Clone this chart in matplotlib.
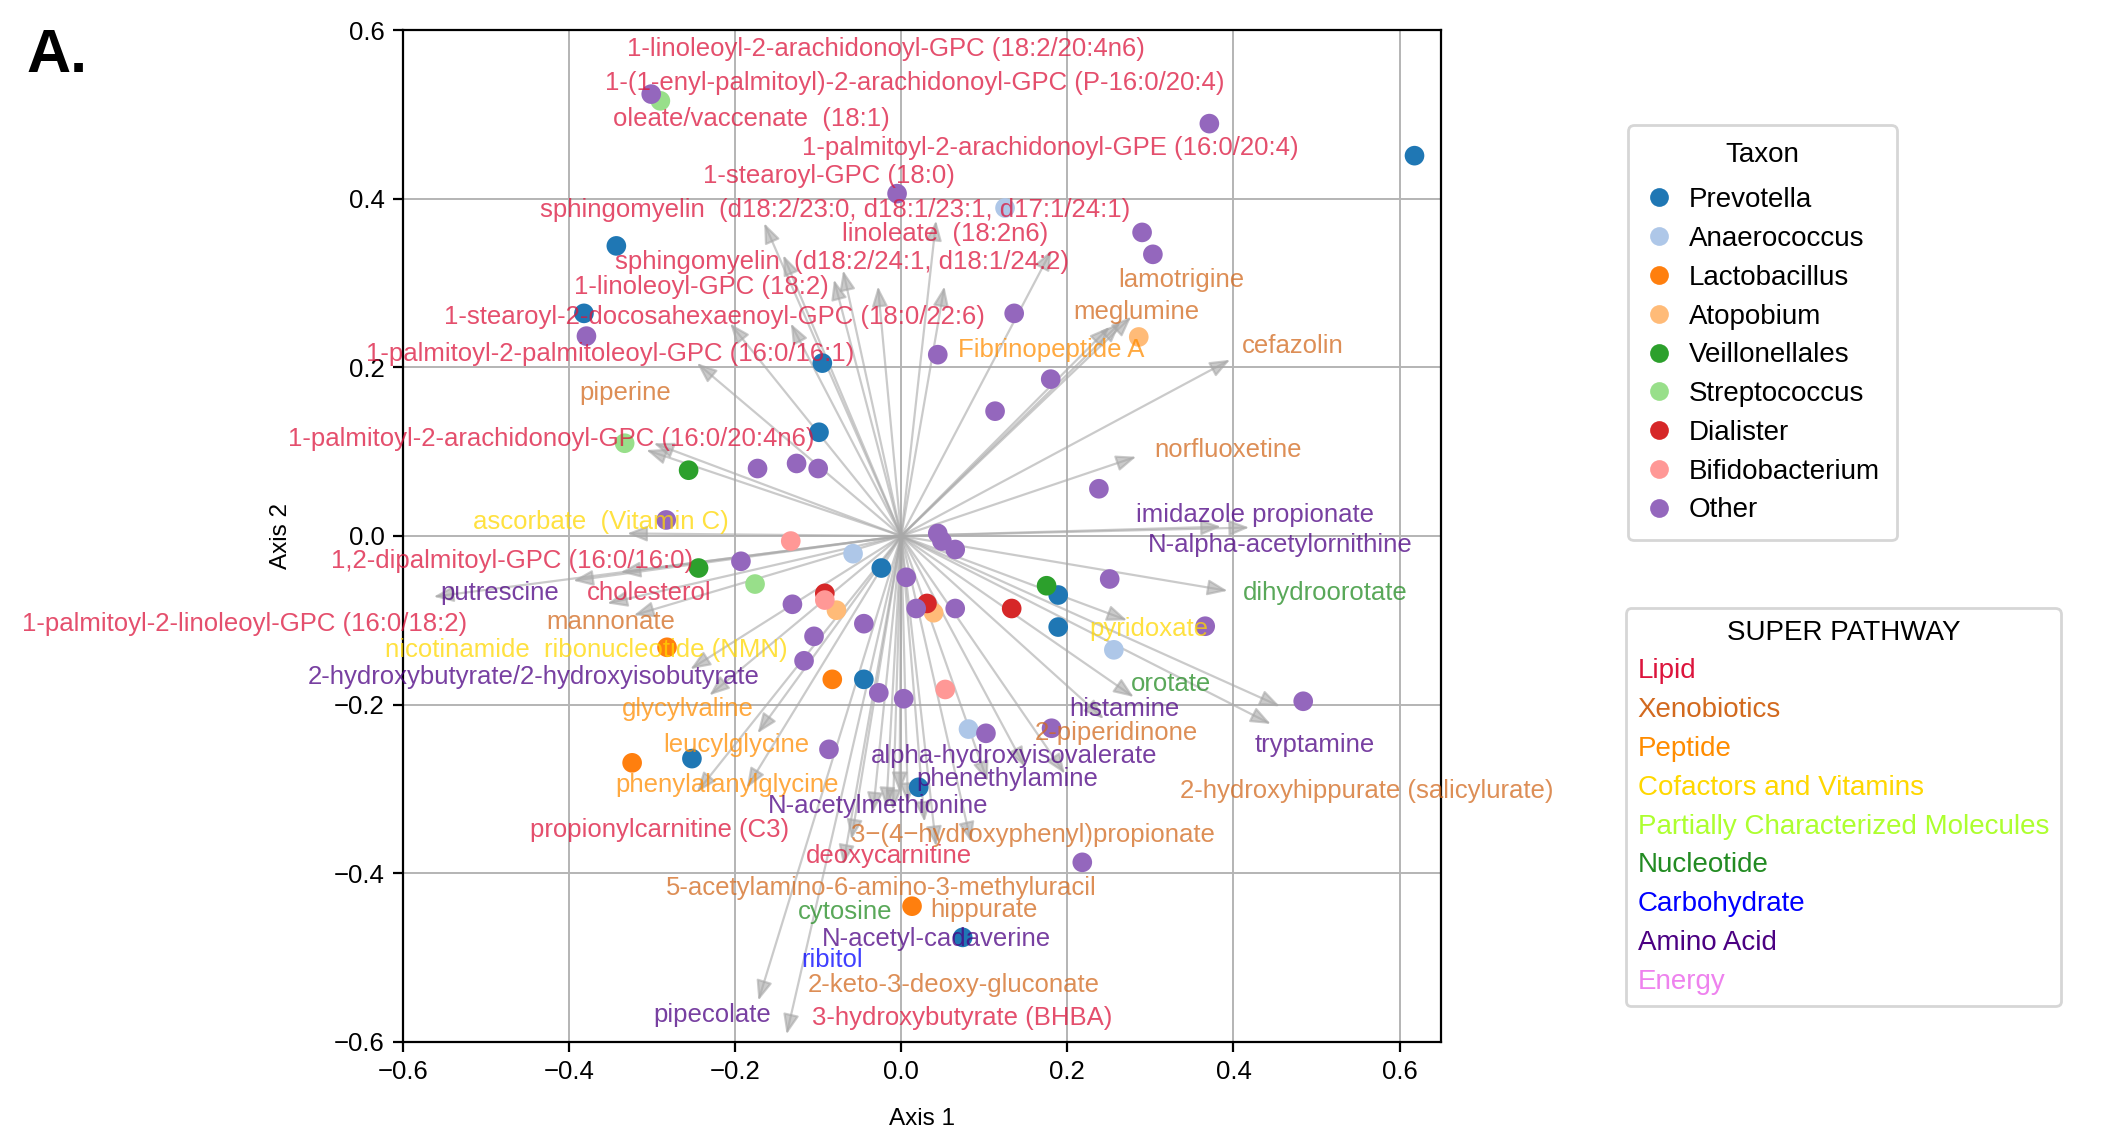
import matplotlib
matplotlib.use('Agg')
import matplotlib.pyplot as plt
from matplotlib.lines import Line2D

plt.rcParams['font.family'] = ['Liberation Sans', 'DejaVu Sans']

# ---------------- data ----------------
taxa = ['Prevotella', 'Anaerococcus', 'Lactobacillus', 'Atopobium', 'Veillonellales',
        'Streptococcus', 'Dialister', 'Bifidobacterium', 'Other']
taxon_colors = ['#1f77b4', '#aec7e8', '#ff7f0e', '#ffbb78', '#2ca02c',
                '#98df8a', '#d62728', '#ff9896', '#9467bd']

prevotella_x = [0.618, -0.343, -0.382, -0.095, -0.099, -0.024, 0.189, 0.189, -0.045, -0.252, 0.021, 0.074]
prevotella_y = [0.451, 0.344, 0.264, 0.205, 0.123, -0.038, -0.070, -0.108, -0.170, -0.264, -0.298, -0.476]
anaerococcus_x = [0.125, -0.058, 0.256, 0.081]
anaerococcus_y = [0.389, -0.021, -0.135, -0.229]
lactobacillus_x = [-0.282, -0.083, -0.324, 0.013]
lactobacillus_y = [-0.132, -0.170, -0.269, -0.439]
atopobium_x = [0.286, -0.078, 0.039]
atopobium_y = [0.236, -0.088, -0.091]
veillonellales_x = [-0.256, -0.244, 0.175]
veillonellales_y = [0.078, -0.038, -0.059]
streptococcus_x = [-0.290, -0.333, -0.176]
streptococcus_y = [0.516, 0.110, -0.057]
dialister_x = [-0.092, 0.031, 0.133]
dialister_y = [-0.068, -0.080, -0.086]
bifidobacterium_x = [-0.133, -0.092, 0.053]
bifidobacterium_y = [-0.006, -0.076, -0.182]
other_x = [-0.301, 0.371, -0.005, 0.290, 0.303, 0.136, -0.379, 0.044, 0.180, 0.113,
           -0.173, -0.126, -0.100, 0.238, -0.283, 0.044, 0.049, 0.065, -0.193, 0.006,
           0.251, -0.131, 0.018, 0.065, -0.045, -0.105, -0.117, 0.366, -0.027, 0.003,
           0.484, -0.087, 0.102, 0.181, 0.218]
other_y = [0.524, 0.489, 0.406, 0.360, 0.334, 0.264, 0.237, 0.215, 0.186, 0.148,
           0.080, 0.086, 0.080, 0.056, 0.019, 0.003, -0.006, -0.016, -0.030, -0.049,
           -0.051, -0.081, -0.086, -0.086, -0.104, -0.119, -0.148, -0.107, -0.186, -0.193,
           -0.196, -0.253, -0.234, -0.228, -0.387]

taxon_x = [prevotella_x, anaerococcus_x, lactobacillus_x, atopobium_x, veillonellales_x,
           streptococcus_x, dialister_x, bifidobacterium_x, other_x]
taxon_y = [prevotella_y, anaerococcus_y, lactobacillus_y, atopobium_y, veillonellales_y,
           streptococcus_y, dialister_y, bifidobacterium_y, other_y]

pathways = ['Lipid', 'Xenobiotics', 'Peptide', 'Cofactors and Vitamins',
            'Partially Characterized Molecules', 'Nucleotide', 'Carbohydrate',
            'Amino Acid', 'Energy']
pathway_colors = ['crimson', 'chocolate', 'darkorange', 'gold', 'greenyellow',
                  'forestgreen', 'blue', 'indigo', 'violet']

metabolites = [
    '1-linoleoyl-2-arachidonoyl-GPC (18:2/20:4n6)',
    '1-(1-enyl-palmitoyl)-2-arachidonoyl-GPC (P-16:0/20:4)',
    'oleate/vaccenate  (18:1)',
    '1-palmitoyl-2-arachidonoyl-GPE (16:0/20:4)',
    '1-stearoyl-GPC (18:0)',
    'sphingomyelin  (d18:2/23:0, d18:1/23:1, d17:1/24:1)',
    'linoleate  (18:2n6)',
    'sphingomyelin  (d18:2/24:1, d18:1/24:2)',
    '1-linoleoyl-GPC (18:2)',
    '1-stearoyl-2-docosahexaenoyl-GPC (18:0/22:6)',
    '1-palmitoyl-2-palmitoleoyl-GPC (16:0/16:1)',
    '1-palmitoyl-2-arachidonoyl-GPC (16:0/20:4n6)',
    '1,2-dipalmitoyl-GPC (16:0/16:0)',
    'cholesterol',
    '1-palmitoyl-2-linoleoyl-GPC (16:0/18:2)',
    'propionylcarnitine (C3)',
    'deoxycarnitine',
    '3-hydroxybutyrate (BHBA)',
    'lamotrigine', 'meglumine', 'cefazolin', 'piperine', 'norfluoxetine', 'mannonate',
    '2-piperidinone', '2-hydroxyhippurate (salicylurate)',
    '3\u2212(4\u2212hydroxyphenyl)propionate',
    '5-acetylamino-6-amino-3-methyluracil', 'hippurate', '2-keto-3-deoxy-gluconate',
    'Fibrinopeptide A', 'glycylvaline', 'leucylglycine', 'phenylalanylglycine',
    'ascorbate  (Vitamin C)', 'nicotinamide  ribonucleotide (NMN)', 'pyridoxate',
    'dihydroorotate', 'orotate', 'cytosine',
    'ribitol',
    'imidazole propionate', 'N-alpha-acetylornithine', 'putrescine',
    '2-hydroxybutyrate/2-hydroxyisobutyrate', 'histamine', 'tryptamine',
    'alpha-hydroxyisovalerate', 'phenethylamine', 'N-acetylmethionine',
    'N-acetyl-cadaverine', 'pipecolate',
]
met_pathway = (['Lipid'] * 18 + ['Xenobiotics'] * 12 + ['Peptide'] * 4 +
               ['Cofactors and Vitamins'] * 3 + ['Nucleotide'] * 3 + ['Carbohydrate'] +
               ['Amino Acid'] * 11)

load_x = [0.042, -0.028, -0.081, 0.181, -0.070, -0.165, 0.052, -0.133, -0.206, -0.142,
          -0.246, -0.307, -0.338, -0.354, -0.563, -0.070, -0.060, -0.138,
          0.277, 0.251, 0.396, -0.298, 0.283, -0.322, 0.197, 0.445, 0.042, 0.084, 0.008, -0.002,
          0.264, -0.173, -0.186, -0.246,
          -0.330, -0.254, 0.272,
          0.393, 0.280, -0.018,
          -0.010,
          0.419, 0.385, -0.395, -0.231, 0.244, 0.456, 0.149, 0.104, -0.034, 0.028, -0.172]
load_y = [0.374, 0.296, 0.304, 0.339, 0.315, 0.371, 0.296, 0.252, 0.252, 0.333,
          0.205, 0.102, -0.043, -0.080, -0.072, -0.390, -0.360, -0.591,
          0.260, 0.248, 0.209, 0.110, 0.094, -0.094, -0.282, -0.223, -0.368, -0.363, -0.317, -0.304,
          0.253, -0.234, -0.299, -0.304,
          0.003, -0.158, -0.100,
          -0.065, -0.191, -0.322,
          -0.325,
          0.010, 0.011, -0.053, -0.189, -0.217, -0.202, -0.274, -0.291, -0.328, -0.339, -0.551]

# label placement (data coordinates of text centres)
label_x = [-0.019, 0.016, -0.180, 0.180, -0.087, -0.079, 0.053, -0.071, -0.241, -0.225,
           -0.350, -0.421, -0.469, -0.303, -0.791, -0.291, -0.015, 0.074,
           0.337, 0.283, 0.471, -0.332, 0.393, -0.350, 0.259, 0.560, 0.159, -0.024, 0.100, 0.063,
           0.181, -0.257, -0.199, -0.210,
           -0.362, -0.379, 0.298,
           0.510, 0.325, -0.068,
           -0.083,
           0.426, 0.456, -0.484, -0.442, 0.269, 0.498, 0.136, 0.128, -0.028, 0.042, -0.227]
label_y = [0.578, 0.537, 0.494, 0.460, 0.427, 0.387, 0.358, 0.325, 0.295, 0.260,
           0.216, 0.115, -0.030, -0.068, -0.104, -0.349, -0.379, -0.572,
           0.303, 0.266, 0.225, 0.169, 0.102, -0.102, -0.234, -0.303, -0.354, -0.417, -0.444, -0.532,
           0.221, -0.205, -0.248, -0.295,
           0.016, -0.135, -0.110,
           -0.068, -0.175, -0.446,
           -0.503,
           0.025, -0.011, -0.068, -0.167, -0.205, -0.248, -0.261, -0.288, -0.320, -0.478, -0.568]

# ---------------- figure ----------------
fig = plt.figure(figsize=(21.05, 11.37), dpi=100)
ax = fig.add_axes([0.1914, 0.0836, 0.4932, 0.8900])

ax.set_xlim(-0.6, 0.65)
ax.set_ylim(-0.6, 0.6)
ax.set_xticks([-0.6, -0.4, -0.2, 0.0, 0.2, 0.4, 0.6])
ax.set_yticks([-0.6, -0.4, -0.2, 0.0, 0.2, 0.4, 0.6])
ax.grid(True, color='#b4b4b4', lw=1.4, zorder=0)
ax.set_axisbelow(True)
for s in ax.spines.values():
    s.set_linewidth(1.6)
    s.set_color('black')
ax.tick_params(labelsize=18.5, length=7, width=1.6, pad=6)
ax.set_xlabel('Axis 1', fontsize=17.5, labelpad=17)
ax.set_ylabel('Axis 2', fontsize=17.5, labelpad=30)

# arrows
for lx, ly in zip(load_x, load_y):
    ax.annotate('', xy=(lx, ly), xytext=(0, 0),
                arrowprops=dict(arrowstyle='-|>,head_length=0.55,head_width=0.22',
                                color='#a8a8a8', alpha=0.6, lw=1.6,
                                mutation_scale=22, shrinkA=0, shrinkB=0),
                zorder=2)

# taxa points
for name, col, xs, ys in zip(taxa, taxon_colors, taxon_x, taxon_y):
    ax.scatter(xs, ys, s=200, color=col, edgecolors='none', zorder=3, label=name)

# metabolite labels
pcol = dict(zip(pathways, pathway_colors))
for name, pw, tx, ty in zip(metabolites, met_pathway, label_x, label_y):
    ax.text(tx, ty, name, color=pcol[pw], alpha=0.75, fontsize=18.5,
            ha='center', va='center', zorder=4, clip_on=False)

# legend 1: taxa
h1 = [Line2D([], [], ls='none', marker='o', markersize=13.5, color=c, markeredgewidth=0)
      for c in taxon_colors]
leg1 = fig.legend(h1, taxa, title='Taxon', loc='upper left',
                  bbox_to_anchor=(0.7734, 0.890), bbox_transform=fig.transFigure,
                  fontsize=20, title_fontsize=20, frameon=True, fancybox=True,
                  labelspacing=0.46, handletextpad=0.6, borderpad=0.6,
                  borderaxespad=0, handlelength=1.0)
leg1._legend_box.sep = 14
leg1.get_frame().set_edgecolor('#cccccc')
leg1.get_frame().set_linewidth(2)

# legend 2: super pathway
h2 = [Line2D([], [], ls='none', marker=None) for _ in pathways]
leg2 = fig.legend(h2, pathways, title='SUPER PATHWAY', loc='upper left',
                  bbox_to_anchor=(0.7724, 0.4653), bbox_transform=fig.transFigure,
                  fontsize=20, title_fontsize=20, frameon=True, fancybox=True,
                  labelspacing=0.46, handletextpad=0, handlelength=0,
                  borderpad=0.42, borderaxespad=0)
leg2.get_frame().set_edgecolor('#cccccc')
leg2.get_frame().set_linewidth(2)
for t, c in zip(leg2.get_texts(), pathway_colors):
    t.set_color(c)

fig.text(0.0128, 0.975, 'A.', fontsize=44, fontweight='bold', va='top', ha='left')

fig.savefig('out.png', dpi=100)
